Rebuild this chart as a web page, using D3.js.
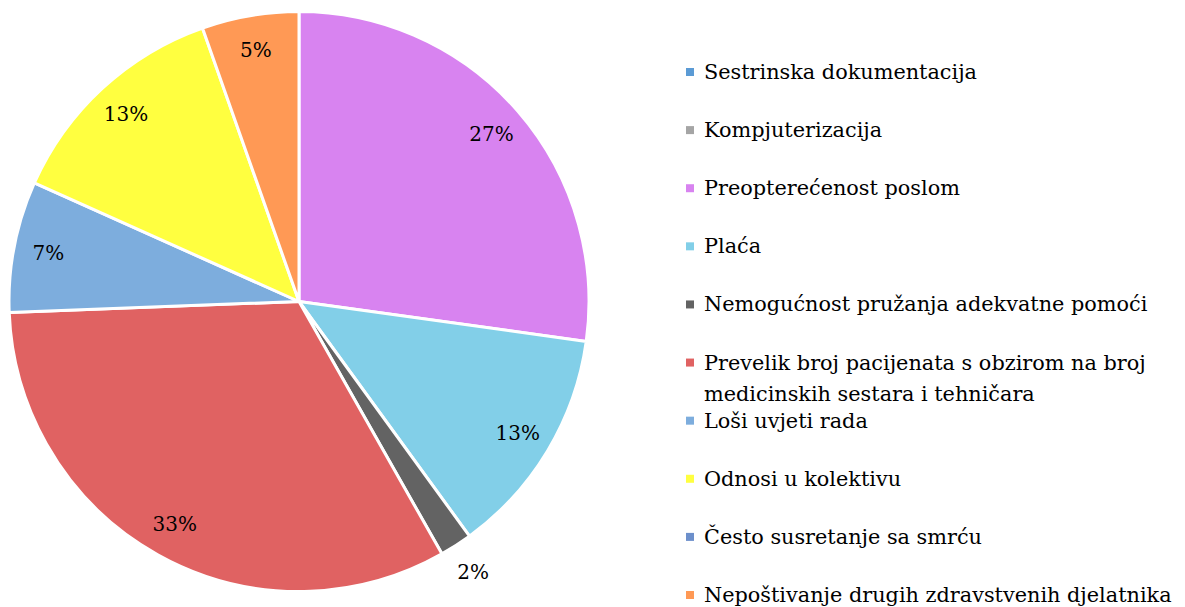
<!DOCTYPE html>
<html><head><meta charset="utf-8">
<script src="https://cdn.jsdelivr.net/npm/d3@7"></script>
<style>body{margin:0;background:#fff;} svg{display:block;} text{font-family:"DejaVu Serif","Liberation Serif",serif;}</style>
</head><body>
<svg id="chart" width="1185" height="607"></svg>
<script>
const categories = ["Sestrinska dokumentacija","Kompjuterizacija","Preopterećenost poslom","Plaća","Nemogućnost pružanja adekvatne pomoći","Prevelik broj pacijenata s obzirom na broj medicinskih sestara i tehničara","Loši uvjeti rada","Odnosi u kolektivu","Često susretanje sa smrću","Nepoštivanje drugih zdravstvenih djelatnika"];
const legendLines = [["Sestrinska dokumentacija"],["Kompjuterizacija"],["Preopterećenost poslom"],["Plaća"],["Nemogućnost pružanja adekvatne pomoći"],["Prevelik broj pacijenata s obzirom na broj","medicinskih sestara i tehničara"],["Loši uvjeti rada"],["Odnosi u kolektivu"],["Često susretanje sa smrću"],["Nepoštivanje drugih zdravstvenih djelatnika"]];
const values = [0, 0, 27.2, 12.8, 1.8, 32.6, 7.3, 12.9, 0, 5.4];
const labels = ["", "", "27%", "13%", "2%", "33%", "7%", "13%", "", "5%"];
const colors = ["#5B9BD5","#A5A5A5","#D883F0","#82CFE8","#636363","#E06262","#7DADDD","#FFFF40","#6C8FCB","#FF9955"];

const svg = d3.select("#chart");
const cx = 299, cy = 301.5, R = 290;
const g = svg.append("g").attr("transform", `translate(${cx},${cy})`);
const data = categories.map((c,i)=>({c, v: values[i], l: labels[i], col: colors[i]}));
const pie = d3.pie().sort(null).value(d=>d.v);
const arcs = pie(data);
const arc = d3.arc().innerRadius(0).outerRadius(R);
const labelArc = d3.arc().innerRadius(R*0.88).outerRadius(R*0.88);
const outArc = d3.arc().innerRadius(R*1.11).outerRadius(R*1.11);

g.selectAll("path").data(arcs.filter(a=>a.data.v>0)).join("path")
  .attr("d", arc).attr("fill", d=>d.data.col)
  .attr("stroke", "#fff").attr("stroke-width", 3).attr("stroke-linejoin","round");

g.selectAll("text.lbl").data(arcs.filter(a=>a.data.v>0)).join("text")
  .attr("class","lbl")
  .attr("transform", d=>{ const p = (d.data.v < 3 ? outArc : labelArc).centroid(d); return `translate(${p[0]},${p[1]})`; })
  .attr("text-anchor","middle").attr("dominant-baseline","central")
  .attr("font-size", 20).attr("fill","#000")
  .text(d=>d.data.l);

const rowY = d3.scalePoint().domain(d3.range(categories.length)).range([72, 595]);
const leg = svg.append("g");
categories.forEach((c,i)=>{
  const y = rowY(i);
  leg.append("rect").attr("x", 686).attr("y", y-4).attr("width", 8).attr("height", 8).attr("fill", colors[i]);
  legendLines[i].forEach((ln,j)=>{
    leg.append("text").attr("x", 704).attr("y", y + j*31).attr("dominant-baseline","central")
      .attr("font-size", 20.8).attr("fill","#000")
      .text(ln);
  });
});
</script>
</body></html>
